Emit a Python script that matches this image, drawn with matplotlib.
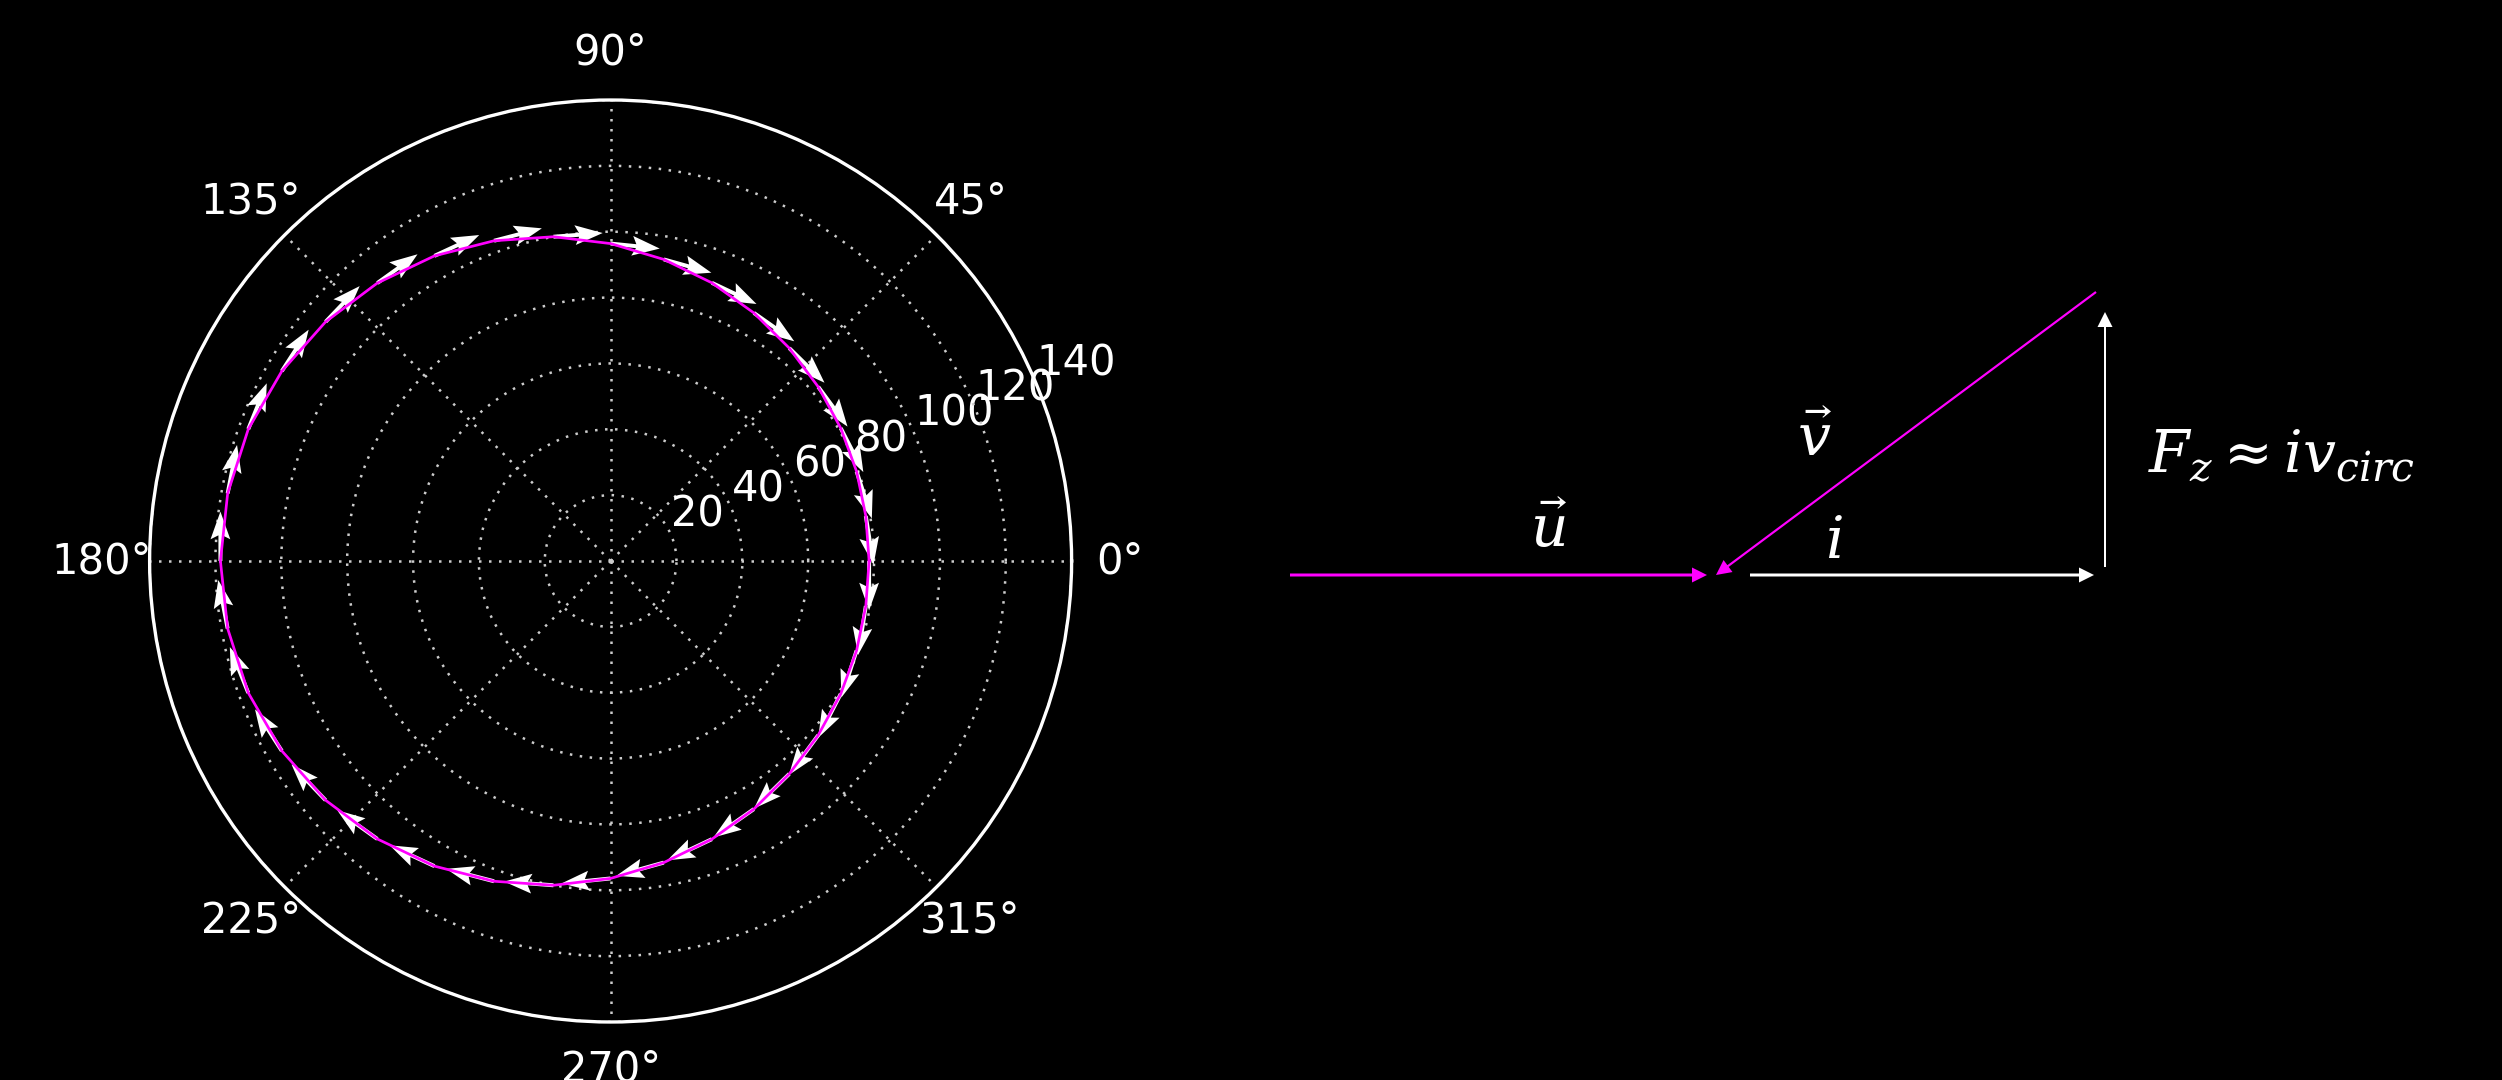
import numpy as np
import matplotlib
matplotlib.use("Agg")
import matplotlib.pyplot as plt

plt.rcParams['mathtext.fontset'] = 'dejavuserif'

# polar samples of the closed streamline (deg, radius)
theta_deg = [0, 10, 20, 30, 40, 50, 60, 70, 80, 90, 100, 110,
             120, 130, 140, 150, 160, 170, 180, 190, 200, 210, 220, 230,
             240, 250, 260, 270, 280, 290, 300, 310, 320, 330, 340, 350]
radius = [78.5, 78.7, 79.5, 80.7, 82.3, 84.4, 87.0, 89.9, 93.0, 96.4, 100.0, 103.5,
          107.0, 110.2, 113.0, 115.3, 117.1, 118.1, 118.5, 118.1, 117.1, 115.3, 113.0, 110.2,
          107.0, 103.5, 100.0, 96.4, 93.0, 89.9, 87.0, 84.4, 82.3, 80.7, 79.5, 78.7]
r_ticks = [20, 40, 60, 80, 100, 120, 140]
r_max = 140
arrow_len = 15  # length of the flow arrows, in r units

# vector diagram: (start x, start y, dx, dy)
vec_u = (-4.26, 0.0, 4.17, 0.0)
vec_v = (3.80, 2.83, -3.80, -2.83)
vec_i = (0.34, 0.0, 3.44, 0.0)
vec_F = (3.89, 0.08, 0.0, 2.55)

MAGENTA = '#ff00ff'
polar_rect = [0.0598, 0.0537, 0.3685, 0.8537]

fig = plt.figure(figsize=(2502 / 300, 1080 / 300), dpi=300, facecolor='black')

# --- polar panel ---
ax = fig.add_axes(polar_rect, projection='polar')
ax.set_facecolor('black')
ax.set_ylim(0, r_max)
ax.set_rticks(r_ticks)
ax.set_yticklabels([str(t) for t in r_ticks])
ax.tick_params(colors='white', labelsize=10)
ax.tick_params(axis='x', pad=1)
ax.grid(True, color='#cccccc', linestyle=(0, (1, 3)), linewidth=0.6)
ax.spines['polar'].set_color('white')
ax.spines['polar'].set_linewidth(0.8)

# cartesian overlay on the same square for the flow arrows
ov = fig.add_axes(polar_rect)
ov.set_xlim(-r_max, r_max)
ov.set_ylim(-r_max, r_max)
ov.axis('off')
ov.patch.set_alpha(0)

th = np.deg2rad(theta_deg)
r = np.array(radius)
x = r * np.cos(th)
y = r * np.sin(th)

# clockwise tangent of the path (from neighbouring samples)
tx = np.roll(x, 1) - np.roll(x, -1)
ty = np.roll(y, 1) - np.roll(y, -1)
n = np.hypot(tx, ty)
tx, ty = tx / n, ty / n
# blend with the clockwise azimuthal direction
dx = tx + np.sin(th)
dy = ty - np.cos(th)
n = np.hypot(dx, dy)
dx, dy = dx / n, dy / n

ov.quiver(x, y, arrow_len * dx, arrow_len * dy, angles='xy', scale_units='xy', scale=1,
          units='xy', width=1.2, headwidth=5, headlength=7, headaxislength=6,
          color='white', pivot='tail', zorder=3)
ov.plot(np.append(x, x[0]), np.append(y, y[0]), color=MAGENTA, lw=0.65, zorder=4)

# --- vector diagram ---
ax2 = fig.add_axes([0.5, 0.0, 0.5, 1.0])
ax2.set_facecolor('black')
ax2.set_xlim(-4.65, 7.86)
ax2.set_ylim(-5.05, 5.75)
ax2.axis('off')

def draw_vec(v, color, w):
    ax2.arrow(v[0], v[1], v[2], v[3], width=w, head_width=0.15, head_length=0.15,
              length_includes_head=True, color=color, lw=0)

draw_vec(vec_u, MAGENTA, 0.03)
draw_vec(vec_v, MAGENTA, 0.022)
draw_vec(vec_i, 'white', 0.03)
draw_vec(vec_F, 'white', 0.02)

ax2.text(-1.67, 0.45, r'$\vec{u}$', color='white', fontsize=14, ha='center', va='center')
ax2.text(0.99, 1.35, r'$\vec{v}$', color='white', fontsize=14, ha='center', va='center')
ax2.text(1.18, 0.34, r'$i$', color='white', fontsize=14, ha='center', va='center')
ax2.text(4.32, 1.03, r'$F_z \approx iv_{circ}$', color='white', fontsize=14,
         ha='left', va='baseline')

fig.savefig('out.png', dpi=300, facecolor='black')
